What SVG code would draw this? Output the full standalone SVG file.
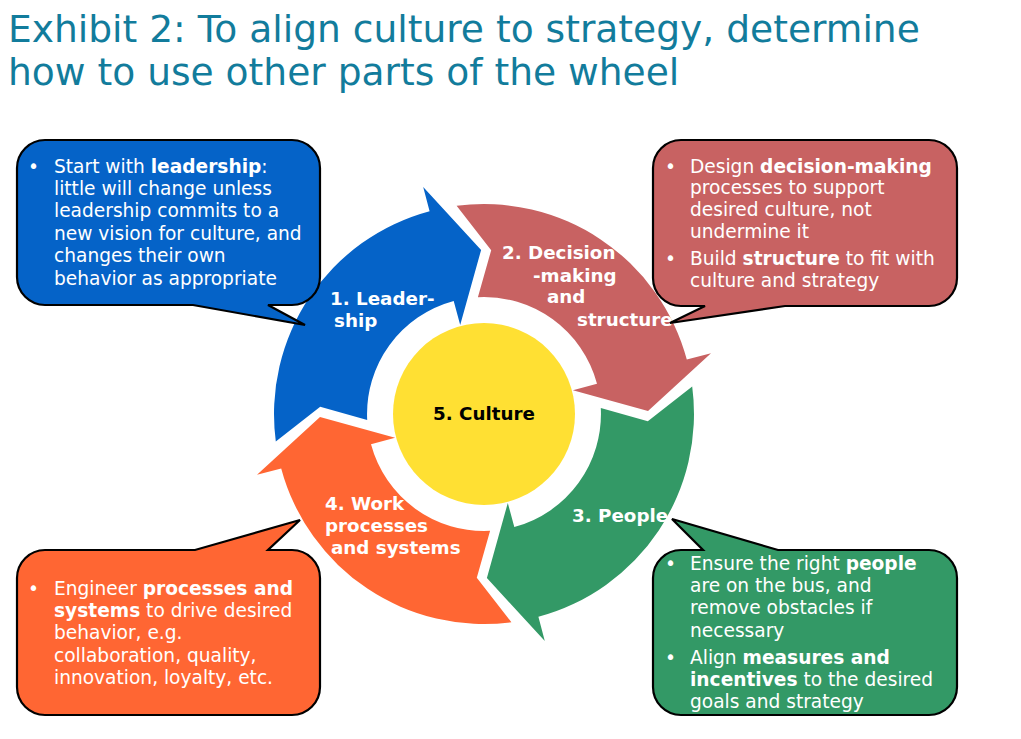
<svg xmlns="http://www.w3.org/2000/svg" xmlns:xlink="http://www.w3.org/1999/xlink" width="1021" height="739" viewBox="0 0 1021 739">
<style>
.title{font-family:"DejaVu Sans","Verdana",sans-serif;font-size:37.6px;fill:#127C9C}
.lbl{font-family:"DejaVu Sans","Verdana",sans-serif;font-size:18.3px;font-weight:bold;fill:#ffffff}
.ctr{font-family:"DejaVu Sans","Verdana",sans-serif;font-size:18.3px;font-weight:bold;fill:#000000}
.txt{font-family:"DejaVu Sans","Verdana",sans-serif;font-size:18.6px;fill:#ffffff}
.b{font-weight:bold}
.call{stroke:#000000;stroke-width:2.2;stroke-linejoin:miter}
</style>
<defs>
<path id="arw" d="M -27.4,-208.2 L 7.2,-163.8 L -6.1,-116.8 A 117 117 0 0 1 113.0,-30.3 L 88.9,-23.8 L 164.0,-2.9 L 227.0,-60.8 L 202.8,-54.4 A 210 210 0 0 0 -27.4,-208.2 Z"/>
</defs>
<rect width="1021" height="739" fill="#ffffff"/>
<g id="title">
<text class="title" x="8" y="42">Exhibit 2: To align culture to strategy, determine</text>
<text class="title" x="8" y="85">how to use other parts of the wheel</text>
</g>
<g id="connectors"></g>
<g id="arrow-leadership">
<use xlink:href="#arw" href="#arw" transform="translate(484,414) rotate(-90)" fill="#0563C8"/>
<text class="lbl" x="330" y="305">1. Leader-</text>
<text class="lbl" x="334" y="327">ship</text>
</g>
<g id="arrow-decision">
<use xlink:href="#arw" href="#arw" transform="translate(484,414)" fill="#C86262"/>
<text class="lbl" x="502" y="259">2. Decision</text>
<text class="lbl" x="533" y="282">-making</text>
<text class="lbl" x="547" y="303">and</text>
<text class="lbl" x="577" y="326">structure</text>
</g>
<g id="arrow-people">
<use xlink:href="#arw" href="#arw" transform="translate(484,414) rotate(90)" fill="#339966"/>
<text class="lbl" x="572" y="522">3. People</text>
</g>
<g id="arrow-work">
<use xlink:href="#arw" href="#arw" transform="translate(484,414) rotate(180)" fill="#FF6633"/>
<text class="lbl" x="325" y="510">4. Work</text>
<text class="lbl" x="325" y="532">processes</text>
<text class="lbl" x="331" y="554">and systems</text>
</g>
<g id="culture">
<circle cx="484" cy="414" r="91" fill="#FFE033"/>
<text class="ctr" x="433" y="420">5. Culture</text>
</g>
<g id="callout-leadership">
<path class="call" fill="#0563C8" d="M 45,140 H 292 A 28 28 0 0 1 320,168 V 277 A 28 28 0 0 1 292,305 H 268 L 305,325 L 193,305 H 45 A 28 28 0 0 1 17,277 V 168 A 28 28 0 0 1 45,140 Z"/>
<text class="txt" x="28" y="173">•</text>
<text class="txt" x="54" y="173">Start with <tspan class="b">leadership</tspan>:</text>
<text class="txt" x="54" y="195">little will change unless</text>
<text class="txt" x="54" y="217">leadership commits to a</text>
<text class="txt" x="54" y="240">new vision for culture, and</text>
<text class="txt" x="54" y="262">changes their own</text>
<text class="txt" x="54" y="285">behavior as appropriate</text>
</g>
<g id="callout-decision">
<path class="call" fill="#C86262" d="M 681,140 H 929 A 28 28 0 0 1 957,168 V 278 A 28 28 0 0 1 929,306 H 785 L 670,323 L 705,306 H 681 A 28 28 0 0 1 653,278 V 168 A 28 28 0 0 1 681,140 Z"/>
<text class="txt" x="665" y="173">•</text>
<text class="txt" x="690" y="173">Design <tspan class="b">decision-making</tspan></text>
<text class="txt" x="690" y="194">processes to support</text>
<text class="txt" x="690" y="216">desired culture, not</text>
<text class="txt" x="690" y="238">undermine it</text>
<text class="txt" x="665" y="265">•</text>
<text class="txt" x="690" y="265">Build <tspan class="b">structure</tspan> to fit with</text>
<text class="txt" x="690" y="287">culture and strategy</text>
</g>
<g id="callout-people">
<path class="call" fill="#339966" d="M 681,550 H 703 L 672,519 L 778,550 H 929 A 28 28 0 0 1 957,578 V 687 A 28 28 0 0 1 929,715 H 681 A 28 28 0 0 1 653,687 V 578 A 28 28 0 0 1 681,550 Z"/>
<text class="txt" x="665" y="570">•</text>
<text class="txt" x="690" y="570">Ensure the right <tspan class="b">people</tspan></text>
<text class="txt" x="690" y="592">are on the bus, and</text>
<text class="txt" x="690" y="614">remove obstacles if</text>
<text class="txt" x="690" y="637">necessary</text>
<text class="txt" x="665" y="664">•</text>
<text class="txt" x="690" y="664">Align <tspan class="b">measures and</tspan></text>
<text class="txt" x="690" y="686"><tspan class="b">incentives</tspan> to the desired</text>
<text class="txt" x="690" y="708">goals and strategy</text>
</g>
<g id="callout-work">
<path class="call" fill="#FF6633" d="M 45,550 H 195 L 300,520 L 268,550 H 292 A 28 28 0 0 1 320,578 V 687 A 28 28 0 0 1 292,715 H 45 A 28 28 0 0 1 17,687 V 578 A 28 28 0 0 1 45,550 Z"/>
<text class="txt" x="28" y="595">•</text>
<text class="txt" x="54" y="595">Engineer <tspan class="b">processes and</tspan></text>
<text class="txt" x="54" y="617"><tspan class="b">systems</tspan> to drive desired</text>
<text class="txt" x="54" y="639">behavior, e.g.</text>
<text class="txt" x="54" y="662">collaboration, quality,</text>
<text class="txt" x="54" y="684">innovation, loyalty, etc.</text>
</g>
</svg>
